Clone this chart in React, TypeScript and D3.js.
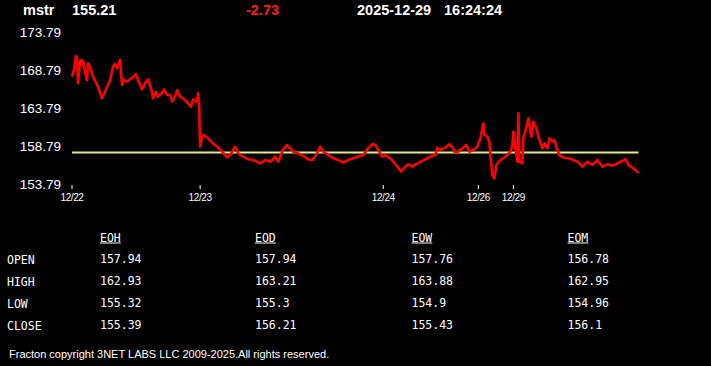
import React from "react";
import * as d3 from "d3";

// header
const symbol = "mstr";
const lastPrice = "155.21";
const change = "-2.73";
const stamp = ["2025-12-29", "16:24:24"];

// price series: bar index (time order) and price
const times = [
  0, 2, 4, 5, 6, 8, 9, 10, 11, 14, 15, 16, 18, 21, 26, 30, 33, 38, 41, 43, 45, 46, 48, 50, 52, 55, 58,
  61, 64, 66, 70, 73, 76, 79, 81, 84, 86, 90, 92, 95, 98, 100, 103, 105, 108, 113, 116, 119, 121, 124,
  125, 126, 127, 128, 130, 132, 133, 136, 140, 145, 150, 155, 158, 160, 163, 166, 171, 176, 181, 185,
  188, 193, 198, 203, 206, 211, 215, 218, 221, 226, 231, 236, 240, 244, 248, 251, 256, 261, 266, 271,
  276, 281, 286, 291, 296, 300, 303, 306, 310, 313, 318, 321, 325, 329, 333, 336, 340, 345, 350, 355,
  360, 363, 365, 368, 373, 377, 380, 382, 386, 390, 394, 397, 401, 405, 408, 409, 411, 412, 415, 417,
  418, 420, 422, 424, 428, 433, 438, 440, 441, 443, 445, 446, 447, 450, 451, 455, 456, 459, 461, 464,
  466, 470, 472, 475, 477, 480, 482, 485, 487, 491, 496, 501, 506, 510, 515, 520, 525, 530, 535, 540,
  545, 550, 553, 556, 560, 563, 566,
];
const prices = [
  167.91, 168.79, 170.63, 170.33, 167.04, 169.88, 170.1, 169.45, 170.0, 167.9, 167.47, 169.67, 169.22,
  167.9, 166.59, 165.07, 165.93, 167.47, 169.22, 169.58, 169.0, 169.45, 170.1, 166.82, 167.47, 167.25,
  167.57, 167.83, 168.26, 167.47, 166.25, 167.04, 167.57, 166.38, 165.07, 165.93, 165.28, 165.8, 166.25,
  165.5, 165.5, 164.62, 165.28, 166.16, 165.28, 164.84, 164.41, 163.96, 164.93, 164.62, 164.84, 165.72,
  164.41, 158.7, 160.01, 160.24, 160.11, 159.8, 159.22, 158.7, 158.04, 157.3, 157.6, 158.04, 158.7,
  157.83, 157.38, 157.04, 156.95, 156.72, 156.51, 156.95, 156.72, 157.38, 156.72, 158.36, 158.92, 158.49,
  158.04, 157.83, 157.47, 157.04, 156.95, 157.6, 158.7, 158.04, 157.6, 157.17, 156.95, 156.59, 156.95,
  157.17, 157.38, 157.6, 158.49, 159.05, 158.92, 158.26, 157.38, 157.6, 157.17, 156.72, 156.07, 155.41,
  156.07, 156.38, 156.07, 156.51, 156.82, 157.17, 157.51, 157.6, 158.57, 158.26, 158.57, 159.01, 158.7,
  158.04, 158.04, 158.49, 158.92, 158.04, 158.26, 158.7, 159.8, 160.46, 161.78, 160.24, 160.01, 159.36,
  157.6, 154.97, 154.54, 156.29, 156.95, 157.38, 158.04, 158.92, 160.67, 158.49, 156.72, 163.09, 156.72,
  156.51, 159.8, 161.78, 162.43, 160.01, 161.99, 161.12, 160.01, 158.49, 159.14, 158.49, 159.8, 159.36,
  159.58, 158.26, 157.6, 157.25, 157.17, 156.95, 156.65, 156.07, 156.72, 156.29, 156.95, 156.07, 156.38,
  156.2, 156.51, 156.82, 157.08, 156.29, 155.93, 155.63, 155.21,
];

// day boundaries (bar index) and labels
const dayTicks = [0, 128, 311, 406, 441];
const dayLabels = ["12/22", "12/23", "12/24", "12/26", "12/29"];

const yTicks = [153.79, 158.79, 163.79, 168.79, 173.79];
const refLevel = 157.94; // day open

// summary table
const periods = ["EOH", "EOD", "EOW", "EOM"];
const rows = ["OPEN", "HIGH", "LOW", "CLOSE"];
const eoh = ["157.94", "162.93", "155.32", "155.39"];
const eod = ["157.94", "163.21", "155.3", "156.21"];
const eow = ["157.76", "163.88", "154.9", "155.43"];
const eom = ["156.78", "162.95", "154.96", "156.1"];
const table = [eoh, eod, eow, eom];

const W = 711;
const H = 366;

export default function App() {
  const x = d3.scaleLinear().domain([0, 566]).range([72, 638.5]);
  const y = d3.scaleLinear().domain([153.79, 173.79]).range([184, 32]);
  const pts = times.map((t, i) => [t, prices[i]] as [number, number]);
  const line = d3
    .line<[number, number]>()
    .x((d) => x(d[0]))
    .y((d) => y(d[1]));

  const colX = [100, 255, 411.5, 567.5];
  const rowY = d3.scalePoint<string>().domain(rows).range([259, 324.5]);
  const sans = "'Liberation Sans', Arial, sans-serif";
  const mono = "'DejaVu Sans Mono', 'Liberation Mono', monospace";
  const charW = 11.5 * 0.602;

  return (
    <div style={{ width: W, height: H, background: "#000" }}>
      <style>{"body{margin:0;background:#000}"}</style>
      <svg width={W} height={H} style={{ display: "block", background: "#000" }}>
        {/* header */}
        <g fontFamily={sans} fontWeight="bold" fontSize={14.5} fill="#fff">
          <text x={23} y={15}>{symbol}</text>
          <text x={72} y={15}>{lastPrice}</text>
          <text x={246} y={15} fill="#ff1a1a">{change}</text>
          <text x={357} y={15}>{stamp[0]}</text>
          <text x={444} y={15}>{stamp[1]}</text>
        </g>

        {/* y labels */}
        <g fontFamily={sans} fontSize={13.5} fill="#fff" textAnchor="end">
          {yTicks.map((v) => (
            <text key={v} x={61} y={y(v)} dy="0.36em">
              {v.toFixed(2)}
            </text>
          ))}
        </g>

        {/* reference line */}
        <line x1={x(0)} x2={x(566)} y1={y(refLevel)} y2={y(refLevel)} stroke="#e2e98a" strokeWidth={2} />

        {/* price line */}
        <path d={line(pts) ?? ""} fill="none" stroke="#ff0000" strokeWidth={2.6} strokeLinejoin="round" />

        {/* x ticks */}
        <g fontFamily={sans} fontSize={10} fill="#fff" textAnchor="middle">
          {dayTicks.map((t, i) => (
            <g key={t}>
              <line x1={x(t)} x2={x(t)} y1={185} y2={189} stroke="#fff" strokeWidth={1} />
              <text x={x(t)} y={197.5} dy="0.36em" letterSpacing={-0.4}>{dayLabels[i]}</text>
            </g>
          ))}
        </g>

        {/* table */}
        <g fontFamily={mono} fontSize={11.5} fill="#fff">
          {periods.map((p, i) => (
            <g key={p}>
              <text x={colX[i]} y={237.5} dy="0.36em">{p}</text>
              <line x1={colX[i]} x2={colX[i] + p.length * charW} y1={243} y2={243} stroke="#fff" strokeWidth={1} />
            </g>
          ))}
          {rows.map((r, j) => (
            <g key={r}>
              <text x={7} y={(rowY(r) ?? 0) + 1} dy="0.36em">{r}</text>
              {table.map((col, i) => (
                <text key={i} x={colX[i]} y={rowY(r)} dy="0.36em">{col[j]}</text>
              ))}
            </g>
          ))}
        </g>

        <text x={9} y={354.5} dy="0.36em" fontFamily={sans} fontSize={11} fill="#fff">
          Fracton copyright 3NET LABS LLC 2009-2025.All rights reserved.
        </text>
      </svg>
    </div>
  );
}
